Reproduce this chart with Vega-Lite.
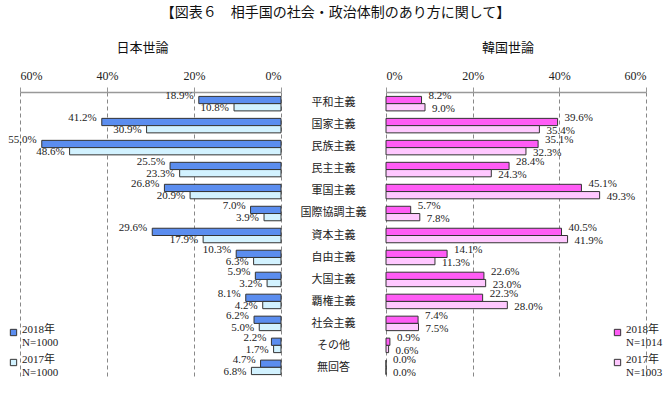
{
  "$schema": "https://vega.github.io/schema/vega-lite/v6.json",
  "background": "white",
  "padding": {"left": 8, "top": 6, "right": 0, "bottom": 0},
  "title": {"text": "【図表６　相手国の社会・政治体制のあり方に関して】", "font": "Noto Sans CJK JP", "fontSize": 14, "fontWeight": "normal", "color": "#111", "anchor": "middle", "offset": 22},
  "config": {
    "view": {"stroke": null},
    "concat": {"spacing": 0},
    "text": {"font": "Liberation Serif", "fontSize": 11, "color": "#222"},
    "axis": {
      "labelFont": "Liberation Serif", "labelFontSize": 12, "labelColor": "#222",
      "domainColor": "#999", "domainWidth": 1.5, "tickColor": "#999", "tickSize": 5,
      "gridColor": "#888", "gridDash": [4, 3], "labelPadding": 5
    }
  },
  "datasets": {
    "d": [
      {"cat": "平和主義", "year": "2018", "jp": 18.9, "kr": 8.2},
      {"cat": "平和主義", "year": "2017", "jp": 10.8, "kr": 9.0},
      {"cat": "国家主義", "year": "2018", "jp": 41.2, "kr": 39.6},
      {"cat": "国家主義", "year": "2017", "jp": 30.9, "kr": 35.4},
      {"cat": "民族主義", "year": "2018", "jp": 55.0, "kr": 35.1},
      {"cat": "民族主義", "year": "2017", "jp": 48.6, "kr": 32.3},
      {"cat": "民主主義", "year": "2018", "jp": 25.5, "kr": 28.4},
      {"cat": "民主主義", "year": "2017", "jp": 23.3, "kr": 24.3},
      {"cat": "軍国主義", "year": "2018", "jp": 26.8, "kr": 45.1},
      {"cat": "軍国主義", "year": "2017", "jp": 20.9, "kr": 49.3},
      {"cat": "国際協調主義", "year": "2018", "jp": 7.0, "kr": 5.7},
      {"cat": "国際協調主義", "year": "2017", "jp": 3.9, "kr": 7.8},
      {"cat": "資本主義", "year": "2018", "jp": 29.6, "kr": 40.5},
      {"cat": "資本主義", "year": "2017", "jp": 17.9, "kr": 41.9},
      {"cat": "自由主義", "year": "2018", "jp": 10.3, "kr": 14.1},
      {"cat": "自由主義", "year": "2017", "jp": 6.3, "kr": 11.3},
      {"cat": "大国主義", "year": "2018", "jp": 5.9, "kr": 22.6},
      {"cat": "大国主義", "year": "2017", "jp": 3.2, "kr": 23.0},
      {"cat": "覇権主義", "year": "2018", "jp": 8.1, "kr": 22.3},
      {"cat": "覇権主義", "year": "2017", "jp": 4.2, "kr": 28.0},
      {"cat": "社会主義", "year": "2018", "jp": 6.2, "kr": 7.4},
      {"cat": "社会主義", "year": "2017", "jp": 5.0, "kr": 7.5},
      {"cat": "その他", "year": "2018", "jp": 2.2, "kr": 0.9},
      {"cat": "その他", "year": "2017", "jp": 1.7, "kr": 0.6},
      {"cat": "無回答", "year": "2018", "jp": 4.7, "kr": 0.0},
      {"cat": "無回答", "year": "2017", "jp": 6.8, "kr": 0.0}
    ]
  },
  "resolve": {"scale": {"color": "independent"}, "legend": {"color": "independent"}},
  "hconcat": [
    {
      "width": 261, "height": 287,
      "data": {"name": "d"},
      "title": {"text": "日本世論", "font": "Noto Sans CJK JP", "fontSize": 13, "fontWeight": "normal", "color": "#111", "offset": 14, "dx": -8},
      "transform": [{"calculate": "format(datum.jp, '.1f') + '%'", "as": "label"}],
      "encoding": {
        "y": {"field": "cat", "type": "nominal", "sort": ["平和主義","国家主義","民族主義","民主主義","軍国主義","国際協調主義","資本主義","自由主義","大国主義","覇権主義","社会主義","その他","無回答"], "axis": null, "scale": {"paddingInner": 0.34, "paddingOuter": 0.2}},
        "yOffset": {"field": "year", "type": "nominal", "sort": ["2018", "2017"]},
        "x": {"field": "jp", "type": "quantitative", "scale": {"domain": [0, 60], "reverse": true, "nice": false}, "axis": {"orient": "top", "values": [0, 20, 40, 60], "labelExpr": "datum.value + '%'", "grid": true, "title": null}}
      },
      "layer": [
        {
          "mark": {"type": "bar", "stroke": "#333", "strokeWidth": 1},
          "encoding": {
            "color": {"field": "year", "type": "nominal", "scale": {"domain": ["2018", "2017"], "range": ["#5b8def", "#d2f2ff"]},
              "legend": {"orient": "none", "legendX": -12, "legendY": 235, "title": null, "symbolType": "square", "symbolSize": 40, "symbolStrokeColor": "#333", "symbolStrokeWidth": 1, "labelFont": "Liberation Serif, Noto Sans CJK JP", "labelFontSize": 11, "labelColor": "#222", "labelBaseline": "alphabetic", "labelExpr": "datum.label == '2018' ? ['2018年', 'N=1000'] : ['2017年', 'N=1000']", "rowPadding": 5, "labelOffset": 3}}
          }
        },
        {
          "transform": [{"filter": "datum.year == '2018'"}],
          "mark": {"type": "text", "align": "right", "baseline": "middle", "dx": -5, "dy": -4},
          "encoding": {"text": {"field": "label"}}
        },
        {
          "transform": [{"filter": "datum.year == '2017'"}],
          "mark": {"type": "text", "align": "right", "baseline": "middle", "dx": -5, "dy": 1},
          "encoding": {"text": {"field": "label"}}
        }
      ]
    },
    {
      "width": 103, "height": 287,
      "data": {"name": "d"},
      "transform": [{"filter": "datum.year == '2018'"}],
      "mark": {"type": "text", "font": "Noto Sans CJK JP", "fontSize": 11, "align": "center", "baseline": "middle", "color": "#222"},
      "encoding": {
        "y": {"field": "cat", "type": "nominal", "sort": ["平和主義","国家主義","民族主義","民主主義","軍国主義","国際協調主義","資本主義","自由主義","大国主義","覇権主義","社会主義","その他","無回答"], "axis": null, "scale": {"paddingInner": 0.34, "paddingOuter": 0.2}},
        "text": {"field": "cat"}
      }
    },
    {
      "width": 260, "height": 287,
      "data": {"name": "d"},
      "title": {"text": "韓国世論", "font": "Noto Sans CJK JP", "fontSize": 13, "fontWeight": "normal", "color": "#111", "offset": 14, "dx": -8},
      "transform": [{"calculate": "format(datum.kr, '.1f') + '%'", "as": "label"}],
      "encoding": {
        "y": {"field": "cat", "type": "nominal", "sort": ["平和主義","国家主義","民族主義","民主主義","軍国主義","国際協調主義","資本主義","自由主義","大国主義","覇権主義","社会主義","その他","無回答"], "axis": null, "scale": {"paddingInner": 0.34, "paddingOuter": 0.2}},
        "yOffset": {"field": "year", "type": "nominal", "sort": ["2018", "2017"]},
        "x": {"field": "kr", "type": "quantitative", "scale": {"domain": [0, 60], "nice": false}, "axis": {"orient": "top", "values": [0, 20, 40, 60], "labelExpr": "datum.value + '%'", "grid": true, "title": null}}
      },
      "layer": [
        {
          "mark": {"type": "bar", "stroke": "#333", "strokeWidth": 1},
          "encoding": {
            "color": {"field": "year", "type": "nominal", "scale": {"domain": ["2018", "2017"], "range": ["#ff5cf5", "#ffc8ff"]},
              "legend": {"orient": "none", "legendX": 226, "legendY": 235, "title": null, "symbolType": "square", "symbolSize": 40, "symbolStrokeColor": "#333", "symbolStrokeWidth": 1, "labelFont": "Liberation Serif, Noto Sans CJK JP", "labelFontSize": 11, "labelColor": "#222", "labelBaseline": "alphabetic", "labelExpr": "datum.label == '2018' ? ['2018年', 'N=1014'] : ['2017年', 'N=1003']", "rowPadding": 5, "labelOffset": 3}}
          }
        },
        {
          "transform": [{"filter": "datum.year == '2018'"}],
          "mark": {"type": "text", "align": "left", "baseline": "middle", "dx": 7, "dy": -4},
          "encoding": {"text": {"field": "label"}}
        },
        {
          "transform": [{"filter": "datum.year == '2017'"}],
          "mark": {"type": "text", "align": "left", "baseline": "middle", "dx": 7, "dy": 2},
          "encoding": {"text": {"field": "label"}}
        }
      ]
    }
  ]
}
